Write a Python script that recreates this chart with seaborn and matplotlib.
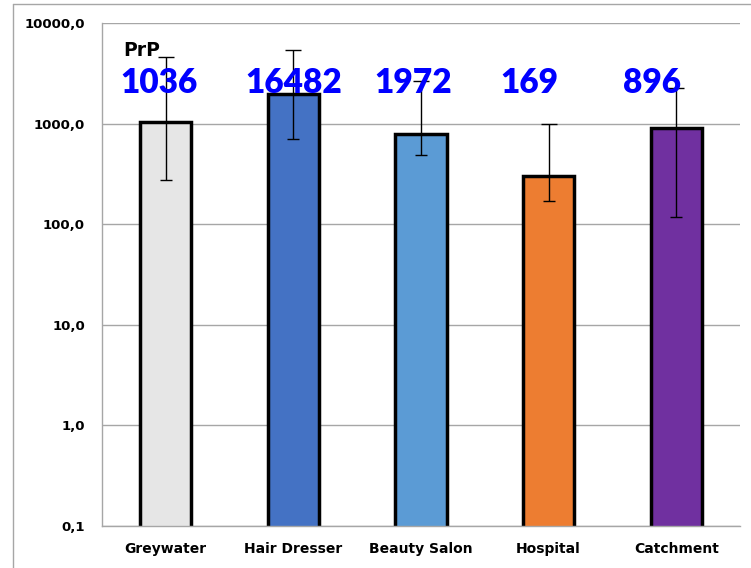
import numpy as np
import pandas as pd
import seaborn as sns
from matplotlib import pyplot as plt
from matplotlib.lines import Line2D

# data
categories = ['Greywater', 'Hair Dresser', 'Beauty Salon', 'Hospital', 'Catchment']
bar_values = [1030, 1970, 790, 300, 900]
err_low = [275, 700, 485, 172, 118]
err_high = [4600, 5400, 2650, 1000, 2250]
top_labels = ['1036', '16482', '1972', '169', '896']
colors = ['#E6E6E6', '#4472C4', '#5B9BD5', '#ED7D31', '#7030A0']
y_ticks = [0.1, 1, 10, 100, 1000, 10000]
y_tick_labels = ['0,1', '1,0', '10,0', '100,0', '1000,0', '10000,0']

df = pd.DataFrame({'category': categories, 'value': bar_values})

sns.set_style('white')
plt.rcParams['font.family'] = ['DejaVu Sans']
plt.rcParams['text.color'] = 'black'
plt.rcParams['xtick.color'] = 'black'
plt.rcParams['ytick.color'] = 'black'

fig = plt.figure(figsize=(7.51, 5.68), dpi=100)
ax = fig.add_axes([0.1358, 0.0739, 0.8496, 0.8856])

sns.barplot(data=df, x='category', y='value', hue='category', palette=colors,
            saturation=1, width=0.4, edgecolor='black', linewidth=2.5,
            legend=False, ax=ax, zorder=2)
ax.set_yscale('log')
ax.set_ylim(0.1, 10000)
ax.set_xlim(-0.5, len(categories) - 0.5)

# asymmetric error bars, upper caps a bit wider than lower ones
x = np.arange(len(categories))
vals = np.array(bar_values, dtype=float)
ax.errorbar(x, vals, yerr=[np.zeros(len(vals)), np.array(err_high) - vals],
            fmt='none', ecolor='black', elinewidth=1, capsize=5.5, capthick=1,
            zorder=3)
ax.errorbar(x, vals, yerr=[vals - np.array(err_low), np.zeros(len(vals))],
            fmt='none', ecolor='black', elinewidth=1, capsize=4, capthick=1,
            zorder=3)

# big blue labels
label_shift = [-0.05, 0.0, -0.06, -0.15, -0.19]
for i, txt in enumerate(top_labels):
    ax.text(i + label_shift[i], 2540, txt, color='#0000FF', fontsize=24,
            family='Lato', fontweight='heavy', ha='center', va='center',
            zorder=4)
ax.text(0.033, 0.946, 'PrP', transform=ax.transAxes, fontsize=13.5,
        fontweight='bold', ha='left', va='center')

# axes styling
ax.set_yticks(y_ticks)
ax.set_yticklabels(y_tick_labels, fontsize=9.5, fontweight='bold')
ax.yaxis.set_minor_locator(plt.NullLocator())
ax.yaxis.grid(True, color='#A6A6A6', linewidth=1, zorder=0)
ax.set_axisbelow(True)
ax.tick_params(axis='y', length=3.6, color='#A6A6A6', pad=8.6)

ax.set_xticks(x)
ax.set_xticklabels(categories, fontsize=10, fontweight='bold')
ax.set_xticks(np.arange(len(categories) + 1) - 0.5, minor=True)
ax.tick_params(axis='x', which='major', length=0, pad=11.5)
ax.tick_params(axis='x', which='minor', length=6, color='#A6A6A6')
ax.set_xlabel('')
ax.set_ylabel('')

sns.despine(ax=ax, top=True, right=True)
for side in ['left', 'bottom']:
    ax.spines[side].set_color('#A6A6A6')
    ax.spines[side].set_linewidth(1)

# outer chart frame (partly cropped)
fig.add_artist(Line2D([12.5 / 751, 12.5 / 751], [0, 1 - 3.5 / 568],
                      transform=fig.transFigure, color='#A6A6A6', linewidth=1))
fig.add_artist(Line2D([12.5 / 751, 1], [1 - 3.5 / 568, 1 - 3.5 / 568],
                      transform=fig.transFigure, color='#A6A6A6', linewidth=1))

plt.savefig('out.png', dpi=100)
